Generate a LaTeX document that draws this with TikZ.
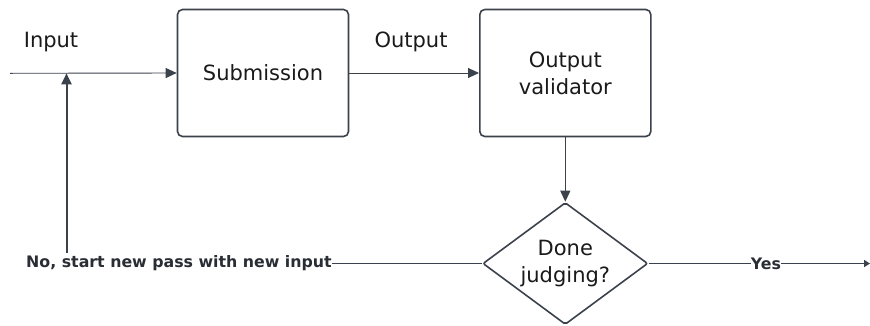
\documentclass[tikz,border=0pt]{standalone}
\usepackage{fontspec}
\setmainfont{DejaVu Sans}
\usetikzlibrary{shapes.geometric,arrows.meta}
\definecolor{edge}{HTML}{3B424C}
\definecolor{ink}{HTML}{1A1A1A}
\tikzset{
  x=1pt, y=-1pt,
  every node/.style={font=\fontsize{21}{27}\selectfont, text=ink},
  stepbox/.style={draw=edge, line width=1.6pt, rounded corners=5pt,
    minimum width=171pt, minimum height=127pt, align=center, inner sep=0pt},
  decision/.style={draw=edge, line width=1.6pt, diamond, aspect=1.35,
    minimum width=165pt, minimum height=122pt, align=center, inner sep=0pt,
    rounded corners=2pt},
  flow/.style={draw=edge, -{Triangle[length=11pt,width=10pt]}},
  tag/.style={font=\bfseries\fontsize{15.8}{18}\selectfont, text=edge!70!black,
    fill=white, inner sep=0pt},
}
\begin{document}
\begin{tikzpicture}
\useasboundingbox (0,0) rectangle (870,325);
% process steps
\node[stepbox] (sub) at (263,73) {Submission};
\node[stepbox] (val) at (565.3,73) {Output\\validator};
\node[decision] (done) at (565.3,263.5) {Done\\judging?};
% plain labels
\node (inlab) at (51,42) {Input};
\node (outlab) at (411,42) {Output};
% feed points
\coordinate (src) at (10,73.3);
\coordinate (join) at (66.5,73.3);
\coordinate (sink) at (870,263.5);
% branch labels
\node[tag] (no) at (179,263.5) {No, start new pass with new input};
\node[tag] (yes) at (766,263.5) {Yes};
% connectors
\draw[flow, line width=0.9pt] (src) -- (sub.west);
\draw[flow, line width=0.9pt] (sub.east) -- (val.west);
\draw[flow, line width=1.2pt] (val.south) -- (done.north);
\draw[edge, line width=1.7pt] (done.west) -- (no.east);
\draw[flow, line width=2pt] (no.north -| join) ++(0,-3) -- (join);
\draw[edge, line width=1.7pt] (done.east) -- (yes.west);
\draw[draw=edge, line width=1.7pt, -{Triangle[length=6pt,width=7pt]}] (yes.east) -- (sink);
\end{tikzpicture}
\end{document}
